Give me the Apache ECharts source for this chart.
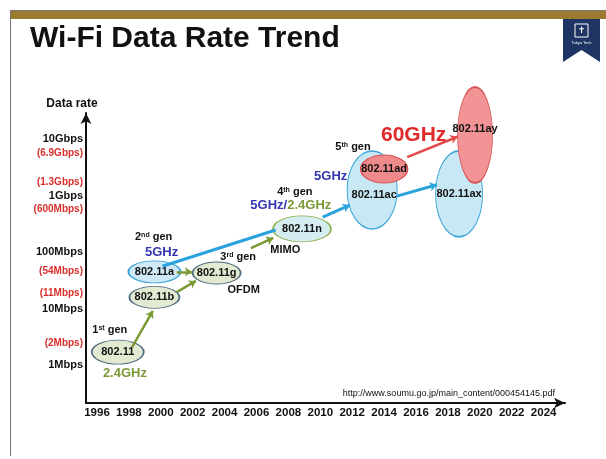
<!DOCTYPE html>
<html>
<head>
<meta charset="utf-8">
<title>Wi-Fi Data Rate Trend</title>
<script src="https://cdn.jsdelivr.net/npm/echarts@6/dist/echarts.min.js"></script>
<style>
  html, body { margin: 0; padding: 0; background: #fff; }
  #chart { width: 606px; height: 459px; }
</style>
</head>
<body>
<div id="chart"></div>
<script>
// x轴: 年份
var yearTicks = [1996, 1998, 2000, 2002, 2004, 2006, 2008, 2010, 2012, 2014, 2016, 2018, 2020, 2022, 2024];
// y轴: log10(Mbps)
var rateTickLabels = ['1Mbps', '10Mbps', '100Mbps', '1Gbps', '10Gbps'];
var rateTickValues = [0, 1, 2, 3, 4];
// 各标准的最大速率 (红字, 位置按原图读取)
var stdRateLabels = ['(2Mbps)', '(11Mbps)', '(54Mbps)', '(600Mbps)', '(1.3Gbps)', '(6.9Gbps)'];
var stdRateValues = [0.39, 1.27, 1.66, 2.76, 3.24, 3.74];

// 各代标准 (年份, 速率等级)
var standardNames = ['802.11', '802.11b', '802.11a', '802.11g', '802.11n', '802.11ac', '802.11ax', '802.11ad', '802.11ay'];
var standardYears = [1997.3, 1999.6, 1999.6, 2003.5, 2008.85, 2013.25, 2018.7, 2014.0, 2019.7];
var standardLevels = [0.23, 1.20, 1.65, 1.63, 2.41, 3.10, 3.03, 3.47, 4.07];

// 箭头 [起点, 终点]
var greenArrows = [
  [[1998.2, 0.32], [1999.5, 0.96]],
  [[2001.0, 1.65], [2001.95, 1.65]],
  [[2001.0, 1.29], [2002.2, 1.49]],
  [[2005.65, 2.07], [2007.05, 2.25]]
];
var blueLink = [
  [[2000.1, 1.75], [2007.2, 2.39]]
];
var blueArrows = [
  [[2010.15, 2.62], [2011.85, 2.83]],
  [[2014.8, 2.99], [2017.3, 3.19]]
];
var redArrows = [
  [[2015.45, 3.68], [2018.6, 4.04]]
];

// 注释文字
var noteTexts = ['1st gen', '2.4GHz', '2nd gen', '5GHz', '3rd gen', 'OFDM', 'MIMO', '4th gen', '5GHz/2.4GHz', '5th gen', '5GHz', '60GHz'];
var noteYears = [1996.8, 1997.75, 1999.55, 2000.05, 2004.85, 2005.2, 2007.8, 2008.4, 2008.15, 2012.05, 2010.65, 2015.85];
var noteLevels = [0.62, -0.14, 2.27, 2.0, 1.91, 1.33, 2.04, 3.06, 2.83, 3.86, 3.33, 4.07];

// 样式
var FONT = 'Liberation Sans, Arial, sans-serif';
var GREEN = '#7a9a36';
var BLUE = '#2aa3dd';
var RED = '#e24a4a';
var ELLIPSE = 'path://M50,0 C77.6,0 100,22.4 100,50 C100,77.6 77.6,100 50,100 C22.4,100 0,77.6 0,50 C0,22.4 22.4,0 50,0 Z';
var bubbleStyle = [
  { size: [52, 24], fill: '#e3ead2', border: '#4f6b80' },
  { size: [50, 22], fill: '#e3ead2', border: '#4f6b80' },
  { size: [52, 22], fill: '#cfeaf6', border: '#36a0d8' },
  { size: [48, 22], fill: '#e3ead2', border: '#4f6b80' },
  { size: [58, 26], fill: '#d5edf1', border: '#8db04c' },
  { size: [50, 78], fill: '#c9e8f5', border: '#3aa5d8', offset: [2, 5] },
  { size: [47, 86], fill: '#c9e8f5', border: '#3aa5d8' },
  { size: [47, 28], fill: '#ef8a8a', border: '#d65658' },
  { size: [35, 96], fill: '#f29495', border: '#d65658', offset: [0, -6] }
];
var noteStyle = {
  '2.4GHz': 'green', '5GHz': 'blue', '5GHz/2.4GHz': 'mixed', '60GHz': 'red'
};

function noteFormatter (text) {
  var gen = text.match(/^(\d)(st|nd|rd|th) gen$/);
  if (gen) return '{n|' + gen[1] + '}{s|' + gen[2] + '}{n| gen}';
  var kind = noteStyle[text];
  if (kind === 'green') return '{g|' + text + '}';
  if (kind === 'blue') return '{b|' + text + '}';
  if (kind === 'red') return '{r|' + text + '}';
  if (kind === 'mixed') {
    var parts = text.split('/');
    return '{b|' + parts[0] + '/}{g|' + parts[1] + '}';
  }
  return '{n|' + text + '}';
}

function lookupLabel (values, labels, v) {
  for (var i = 0; i < values.length; i++) {
    if (Math.abs(values[i] - v) < 1e-6) return labels[i];
  }
  return '';
}

function arrowData (list, color, width) {
  return list.map(function (c) {
    return { coords: c, lineStyle: { color: color, width: width, opacity: 1 } };
  });
}

var chart = echarts.init(document.getElementById('chart'));

var option = {
  backgroundColor: '#fff',
  animation: false,
  grid: { left: 86, right: 41, top: 113, bottom: 56, containLabel: false },
  xAxis: {
    type: 'value',
    min: 1995.31,
    max: 2025.34,
    splitLine: { show: false },
    axisTick: { show: false },
    axisLine: { show: true, onZero: false, symbol: ['none', 'arrow'], symbolSize: [8, 11], lineStyle: { color: '#111', width: 2 } },
    axisLabel: {
      customValues: yearTicks,
      margin: 4,
      color: '#111',
      fontFamily: FONT,
      fontWeight: 'bold',
      fontSize: 11.5,
      formatter: function (v) { return String(Math.round(v)); }
    }
  },
  yAxis: [{
    type: 'value',
    min: -0.67,
    max: 4.46,
    splitLine: { show: false },
    axisTick: { show: false },
    axisLine: { show: true, onZero: false, symbol: ['none', 'arrow'], symbolSize: [8, 11], lineStyle: { color: '#111', width: 2 } },
    axisLabel: {
      customValues: rateTickValues,
      margin: 3,
      color: '#111',
      fontFamily: FONT,
      fontWeight: 'bold',
      fontSize: 11,
      formatter: function (v) { return lookupLabel(rateTickValues, rateTickLabels, v); }
    }
  }, {
    type: 'value',
    position: 'left',
    min: -0.67,
    max: 4.46,
    splitLine: { show: false },
    axisTick: { show: false },
    axisLine: { show: false },
    axisLabel: {
      customValues: stdRateValues,
      margin: 3,
      color: '#d8302c',
      fontFamily: FONT,
      fontWeight: 'bold',
      fontSize: 10,
      formatter: function (v) { return lookupLabel(stdRateValues, stdRateLabels, v); }
    }
  }],
  graphic: [
    { type: 'line', shape: { x1: 10, y1: 10.5, x2: 606, y2: 10.5 }, style: { stroke: '#777', lineWidth: 1 } },
    { type: 'rect', shape: { x: 10, y: 11, width: 596, height: 8 }, style: { fill: '#9a7b2f' } },
    { type: 'line', shape: { x1: 10.5, y1: 11, x2: 10.5, y2: 456 }, style: { stroke: '#777', lineWidth: 1 } },
    { type: 'polygon', shape: { points: [[563, 19], [600, 19], [600, 62], [581.5, 50], [563, 62]] }, style: { fill: '#1e3463' } },
    { type: 'rect', shape: { x: 575, y: 24, width: 13, height: 13 }, style: { fill: 'none', stroke: '#fff', lineWidth: 1 } },
    { type: 'text', x: 581.5, y: 30.5, style: { text: '✝', fill: '#fff', font: '9px DejaVu Sans', align: 'center', verticalAlign: 'middle' } },
    { type: 'text', x: 581.5, y: 43, style: { text: 'Tokyo Tech', fill: '#fff', font: '4px ' + FONT, align: 'center', verticalAlign: 'middle' } },
    { type: 'text', x: 30, y: 39, style: { text: 'Wi-Fi Data Rate Trend', fill: '#111', font: 'bold 30px ' + FONT, verticalAlign: 'middle' } },
    { type: 'text', x: 72, y: 104, style: { text: 'Data rate', fill: '#111', font: 'bold 12px ' + FONT, align: 'center', verticalAlign: 'middle' } },
    { type: 'text', x: 555, y: 394, style: { text: 'http://www.soumu.go.jp/main_content/000454145.pdf', fill: '#111', font: '9px ' + FONT, align: 'right', verticalAlign: 'middle' } }
  ],
  series: [
    {
      type: 'scatter',
      z: 2,
      clip: false,
      symbol: ELLIPSE,
      data: standardNames.map(function (n, i) {
        var st = bubbleStyle[i];
        return {
          name: n,
          value: [standardYears[i], standardLevels[i]],
          symbolSize: st.size,
          itemStyle: { color: st.fill, borderColor: st.border, borderWidth: 1.2, opacity: 1 },
          label: { offset: st.offset || [0, 0] }
        };
      }),
      label: {
        show: true,
        position: 'inside',
        formatter: '{b}',
        color: '#111',
        fontFamily: FONT,
        fontWeight: 'bold',
        fontSize: 11
      },
      emphasis: { disabled: true }
    },
    {
      type: 'lines',
      coordinateSystem: 'cartesian2d',
      z: 3,
      symbol: ['none', 'arrow'],
      symbolSize: 7,
      data: arrowData(greenArrows, GREEN, 2.5)
    },
    {
      type: 'lines',
      coordinateSystem: 'cartesian2d',
      z: 3,
      symbol: ['none', 'none'],
      data: arrowData(blueLink, BLUE, 3)
    },
    {
      type: 'lines',
      coordinateSystem: 'cartesian2d',
      z: 3,
      symbol: ['none', 'arrow'],
      symbolSize: 7,
      data: arrowData(blueArrows, BLUE, 3)
    },
    {
      type: 'lines',
      coordinateSystem: 'cartesian2d',
      z: 3,
      symbol: ['none', 'arrow'],
      symbolSize: 7,
      data: arrowData(redArrows, RED, 2.5)
    },
    {
      type: 'scatter',
      z: 4,
      clip: false,
      symbolSize: 1,
      itemStyle: { color: 'rgba(0,0,0,0)', opacity: 1 },
      data: noteTexts.map(function (t, i) {
        return { name: t, value: [noteYears[i], noteLevels[i]] };
      }),
      label: {
        show: true,
        position: 'inside',
        formatter: function (p) { return noteFormatter(p.name); },
        rich: {
          n: { fontFamily: FONT, fontWeight: 'bold', fontSize: 11, color: '#111' },
          s: { fontFamily: FONT, fontWeight: 'bold', fontSize: 7, color: '#111', verticalAlign: 'top' },
          g: { fontFamily: FONT, fontWeight: 'bold', fontSize: 13, color: GREEN },
          b: { fontFamily: FONT, fontWeight: 'bold', fontSize: 13, color: '#3336b0' },
          r: { fontFamily: FONT, fontWeight: 'bold', fontSize: 21, color: '#e02a2a' }
        }
      },
      emphasis: { disabled: true }
    }
  ]
};

chart.setOption(option);
</script>
</body>
</html>
